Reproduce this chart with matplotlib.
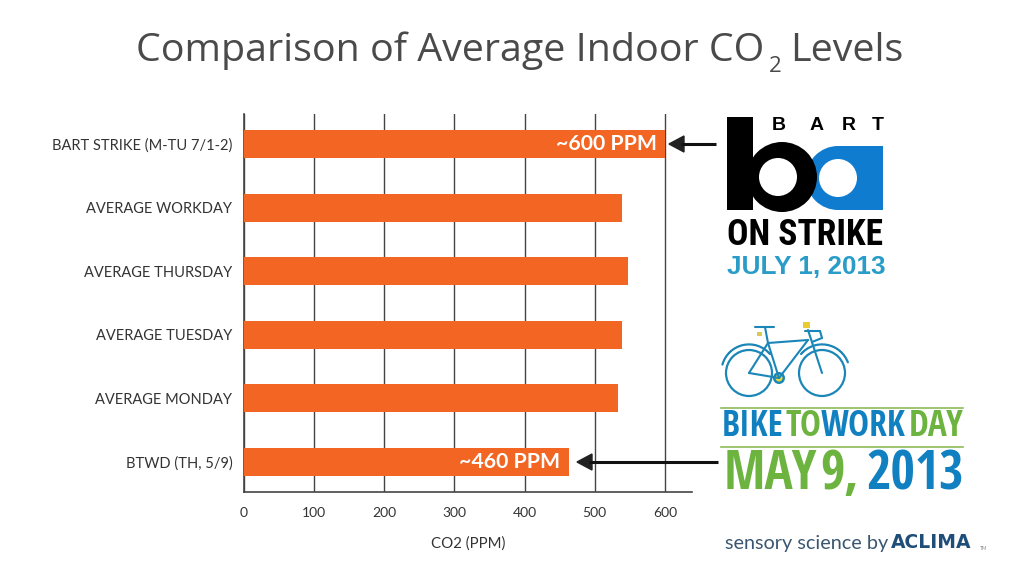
import matplotlib
matplotlib.use("Agg")
import matplotlib.pyplot as plt
from matplotlib.patches import Circle, Rectangle, Polygon, Wedge

categories = ["BART STRIKE (M-TU 7/1-2)", "AVERAGE WORKDAY", "AVERAGE THURSDAY",
              "AVERAGE TUESDAY", "AVERAGE MONDAY", "BTWD (TH, 5/9)"]
values = [600, 539, 547, 539, 533, 463]
bar_notes = ["~600 PPM", "", "", "", "", "~460 PPM"]
x_ticks = [0, 100, 200, 300, 400, 500, 600]

ORANGE = "#F26522"
W, H = 1024, 580
plt.rcParams["font.family"] = ["Lato", "DejaVu Sans"]
fig = plt.figure(figsize=(W / 100, H / 100), dpi=100)

# chart
L, R, T, B = 243.5, 692, 114, 492
ax = fig.add_axes([L / W, 1 - B / H, (R - L) / W, (B - T) / H])
ax.set_xlim(0, (R - L) / 0.7025)
ax.set_ylim(5 + 30 / 63.6, -30 / 63.6)
ax.barh(range(len(values)), values, height=0.44, color=ORANGE, zorder=3)
ax.set_yticks(range(len(categories)), categories)
ax.set_xticks(x_ticks)
ax.grid(axis="x", color="#444444", lw=1, zorder=1)
ax.set_axisbelow(True)
for s in ("top", "right"):
    ax.spines[s].set_visible(False)
for s in ("left", "bottom"):
    ax.spines[s].set_color("#444444")
    ax.spines[s].set_linewidth(1.2)
ax.tick_params(axis="both", length=0, labelcolor="#333333")
ax.tick_params(axis="y", pad=8, labelsize=10.5)
ax.tick_params(axis="x", pad=10.5, labelsize=10)
ax.set_xlabel("CO2 (PPM)", fontsize=10.8, color="#333333", labelpad=13)
for i, (v, note) in enumerate(zip(values, bar_notes)):
    if note:
        ax.annotate(note, (v, i), xytext=(-6, 0), textcoords="offset points",
                    ha="right", va="center", color="white", fontsize=15.3,
                    fontweight="bold", zorder=4)

TITLE = "#4a4a4a"
fig.text(136 / W, 1 - 51 / H, "Comparison of Average Indoor CO", ha="left", va="center",
         fontsize=28.4, color=TITLE, family="Open Sans")
fig.text(769 / W, 1 - 66 / H, "2", ha="left", va="center", fontsize=16, color=TITLE,
         family="Open Sans")
fig.text(903 / W, 1 - 51 / H, "Levels", ha="right", va="center", fontsize=28.4, color=TITLE,
         family="Open Sans")

# overlay in pixel coordinates for arrows and logos
ov = fig.add_axes([0, 0, 1, 1], zorder=5)
ov.set_xlim(0, W)
ov.set_ylim(H, 0)
ov.axis("off")
ov.patch.set_alpha(0)

def arrow(x0, x1, y):
    ov.plot([x0, x1 + 12], [y, y], color="#111111", lw=2.2, solid_capstyle="butt")
    ov.add_patch(Polygon([(x1, y), (x1 + 15, y - 8), (x1 + 15, y + 8)], color="#222222"))

arrow(716, 669, 144)
arrow(718, 577, 462)

# BART logo
BLUE = "#0F7CD0"
ov.add_patch(Circle((838, 178), 32, color=BLUE, lw=0))
ov.add_patch(Rectangle((838, 146), 45, 64, color=BLUE, lw=0))
ov.add_patch(Circle((838, 178), 19, color="white", lw=0))
ov.add_patch(Rectangle((727, 117), 26, 93, color="black", lw=0))
ov.add_patch(Circle((782, 177), 35, color="black", lw=0))
ov.add_patch(Circle((778, 177), 19, color="white", lw=0))
for x, c in zip((779, 817, 849, 878), "BART"):
    ov.text(x, 125.5, c, ha="center", va="center", fontsize=14, fontweight="bold",
            color="black", family="Liberation Sans")
ov.text(805, 235, "ON STRIKE", ha="center", va="center", fontsize=25.6, fontweight="bold",
        color="black", family="Roboto Condensed")
ov.text(806, 267, "JULY 1, 2013", ha="center", va="center", fontsize=18.8, fontweight="bold",
        color="#2A9CC8", family="Liberation Sans")

# bike logo
BK = "#1B86B8"
for cx in (749, 822):
    ov.add_patch(Circle((cx, 373), 23, fill=False, ec=BK, lw=1.6))
ov.add_patch(Wedge((749, 372), 28, 195, 320, width=0.8, color=BK))
ov.add_patch(Wedge((822, 372), 28, 220, 340, width=0.8, color=BK))
frame = [([749, 779], [373, 378]), ([779, 768], [378, 343]), ([768, 808], [343, 340]),
         ([808, 779], [340, 378]), ([749, 768], [373, 343]), ([808, 822], [330, 373]),
         ([768, 765], [343, 327]), ([755, 774], [327, 327]),
         ([805, 820], [331, 331]), ([820, 822], [331, 338]), ([822, 812], [338, 342])]
for xs, ys in frame:
    ov.plot(xs, ys, color=BK, lw=1.5, solid_capstyle="round")
ov.add_patch(Circle((779, 378), 6, color=BK, lw=0))
ov.add_patch(Circle((779, 378), 3.5, color="#E8D93A", lw=0))
ov.add_patch(Rectangle((803, 322), 7, 6, color="#EBCB35", lw=0))
ov.add_patch(Rectangle((757, 332), 5, 4, color="#D8CB50", lw=0))

GREEN = "#6DB33F"
TEAL = "#1180C0"
ov.plot([721, 963], [408, 408], color="#8DBB5A", lw=1.2)
ov.plot([721, 963], [447, 447], color="#8DBB5A", lw=1.2)
narrow = "Open Sans Condensed"
for x, s, c in zip((722, 785, 821, 909), ("BIKE", "TO", "WORK", "DAY"), (TEAL, GREEN, TEAL, GREEN)):
    ov.text(x, 427, s, ha="left", va="center", fontsize=25.5, fontweight="bold",
            color=c, family=narrow)
for x, s, c in zip((724, 820, 866), ("MAY", "9,", "2013"), (GREEN, GREEN, TEAL)):
    ov.text(x, 475, s, ha="left", va="center", fontsize=38, fontweight="bold",
            color=c, family=narrow)

ov.text(725, 543, "sensory science by", ha="left", va="center", fontsize=14.3,
        color="#3A5670", family="Lato")
ov.text(891, 542, "ACLIMA", ha="left", va="center", fontsize=13.5, fontweight="bold",
        color="#1F4E79", family="DejaVu Sans")
ov.text(980, 548, "TM", ha="left", va="center", fontsize=3.5, color="#888888")

fig.savefig("out.png", dpi=100)
